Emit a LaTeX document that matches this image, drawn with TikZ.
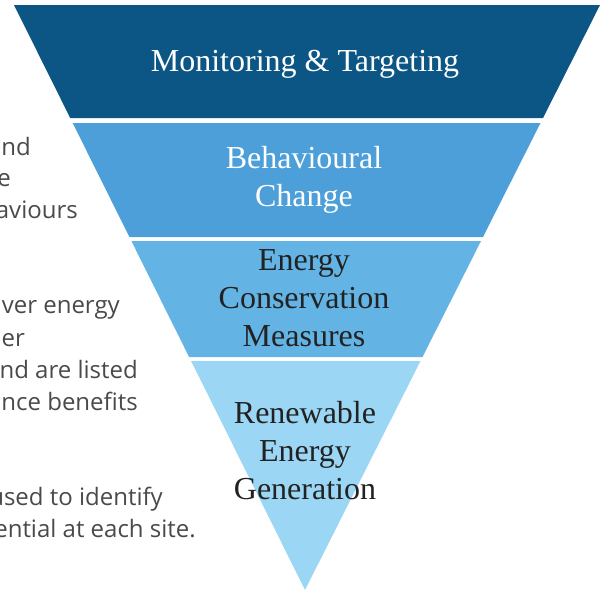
\documentclass[tikz,border=0pt]{standalone}
\usepackage{fontspec}
\setmainfont{Liberation Serif}
\newfontfamily\sidefont{Open Sans}
\definecolor{bandA}{HTML}{0C5685}
\definecolor{bandB}{HTML}{4C9FD8}
\definecolor{bandC}{HTML}{63B4E4}
\definecolor{bandD}{HTML}{9BD7F4}
\definecolor{sidegray}{HTML}{4A4A4A}
\definecolor{darktext}{HTML}{222222}
\tikzset{
  bandtext/.style={align=center,inner sep=0pt,font=\fontsize{32}{38}\selectfont},
  sidetext/.style={anchor=base east,inner sep=0pt,text=sidegray,font=\sidefont\fontsize{24}{32}\selectfont}
}
\begin{document}
\begin{tikzpicture}[x=1pt,y=-1pt]
\useasboundingbox (0,0) rectangle (602,592);
\clip (0,0) rectangle (602,592);

% the four bands of the funnel
\fill[bandA] (14,5) -- (600,5) -- (543,118) -- (70.2,118) -- cycle;
\fill[bandB] (72.7,123) -- (540.5,123) -- (483,237) -- (129.4,237) -- cycle;
\fill[bandC] (131.4,241) -- (481,241) -- (422.5,357) -- (189.1,357) -- cycle;
\fill[bandD] (191.1,361) -- (420.5,361) -- (305,590) -- cycle;

\node[bandtext,text=white] (MT) at (305,64) {Monitoring \& Targeting};
\node[bandtext,text=white] (BC) at (304,180) {Behavioural\\Change};
\node[bandtext,text=darktext] (ECM) at (304,298) {Energy\\Conservation\\Measures};
\node[bandtext,text=darktext] (REG) at (305,451) {Renewable\\Energy\\Generation};

% text at the left, cut by the edge
\node[sidetext] (s1) at (31,155) {and};
\node[sidetext] (s2) at (11,186) {e};
\node[sidetext] (s3) at (78,218) {aviours};
\node[sidetext] (s4) at (120,313) {ver energy};
\node[sidetext] (s5) at (25,346) {ler};
\node[sidetext] (s6) at (138,378) {nd are listed};
\node[sidetext] (s7) at (138,410) {ance benefits};
\node[sidetext] (s8) at (163,505) {used to identify};
\node[sidetext] (s9) at (196,537) {ential at each site.};

\end{tikzpicture}
\end{document}
